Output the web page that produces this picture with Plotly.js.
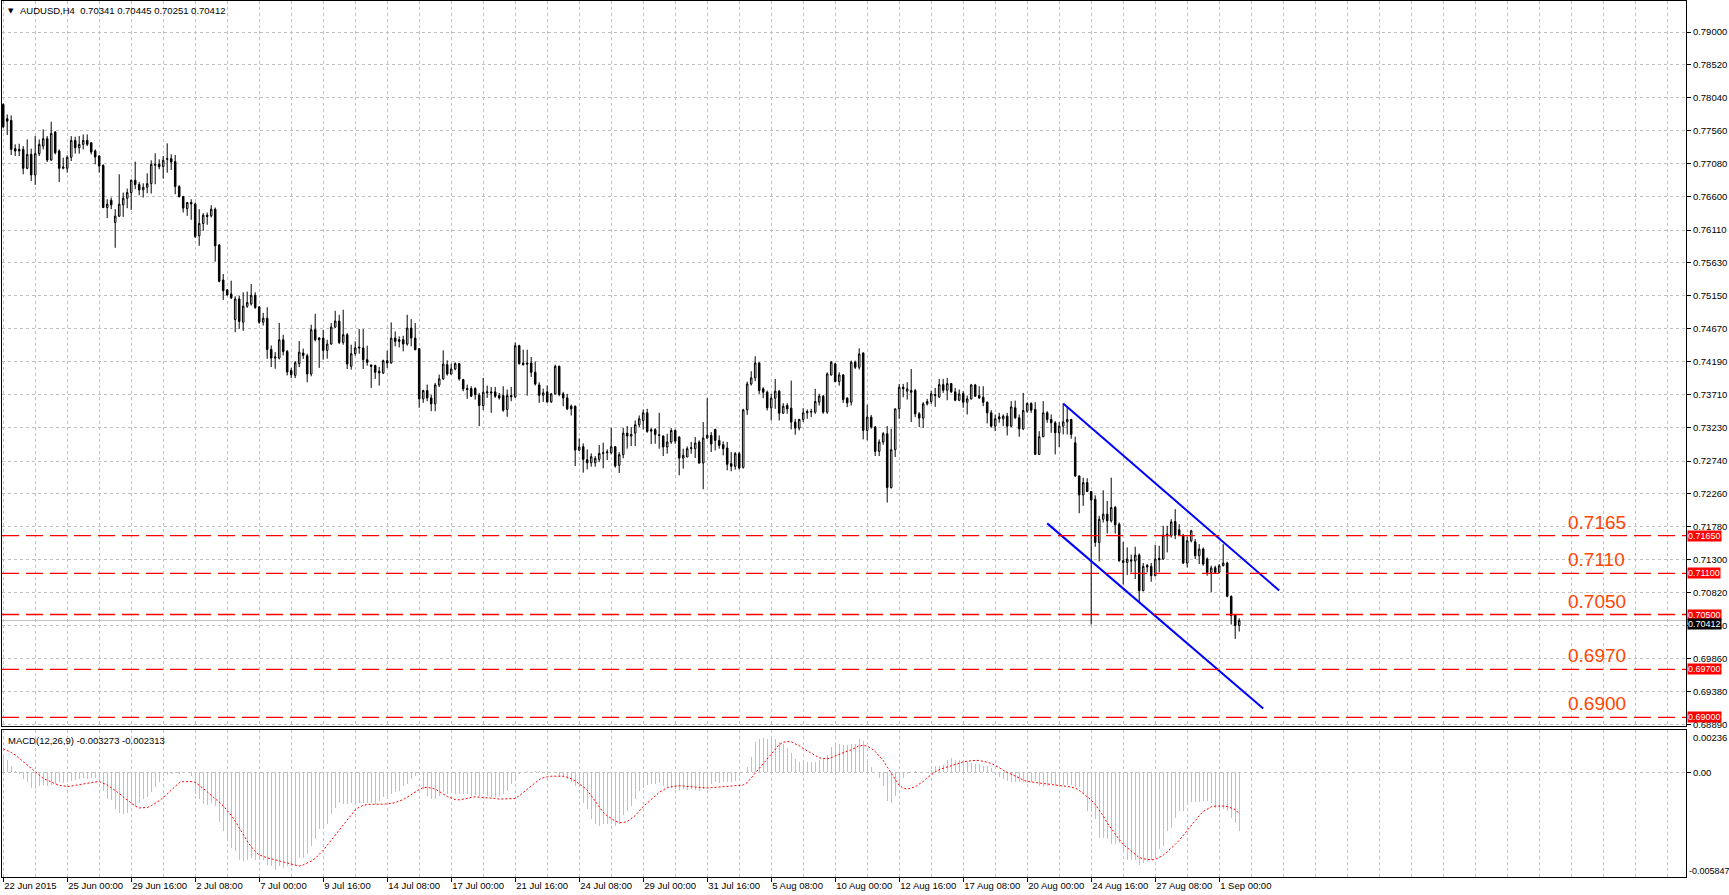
<!DOCTYPE html>
<html><head><meta charset="utf-8">
<script src="https://cdn.plot.ly/plotly-3.0.1.min.js"></script>
<style>html,body{margin:0;padding:0;background:#fff;overflow:hidden}#chart{width:1729px;height:895px}</style>
</head><body><div id="chart"></div>
<script>
const symbolTitle = "AUDUSD,H4  0.70341 0.70445 0.70251 0.70412";
const macdTitle = "MACD(12,26,9) -0.003273 -0.002313";

const open = [0.77943,0.77734,0.77710,0.77298,0.77288,0.77288,0.77012,0.77215,0.76915,0.77225,
0.77336,0.77443,0.77133,0.77540,0.77264,0.77012,0.77012,0.77172,0.77419,0.77312,
0.77361,0.77419,0.77385,0.77264,0.77191,0.77055,0.76439,0.76546,0.76221,0.76313,
0.76478,0.76575,0.76657,0.76837,0.76774,0.76696,0.76735,0.76788,0.77055,0.77070,
0.77036,0.77142,0.77152,0.77109,0.76745,0.76599,0.76425,0.76512,0.76488,0.76027,
0.76206,0.76328,0.76318,0.76415,0.75891,0.75382,0.75236,0.75178,0.74805,0.75105,
0.74766,0.74999,0.75033,0.75159,0.74989,0.74766,0.74824,0.74368,0.74242,0.74242,
0.74509,0.74339,0.74060,0.73990,0.74160,0.74315,0.74277,0.74010,0.74656,0.74534,
0.74534,0.74355,0.74447,0.74694,0.74782,0.74471,0.74583,0.74122,0.74306,0.74389,
0.74389,0.74219,0.74141,0.74132,0.74049,0.74025,0.74204,0.74170,0.74534,0.74510,
0.74510,0.74447,0.74680,0.74534,0.74379,0.73647,0.73768,0.73661,0.73574,0.73850,
0.73938,0.74146,0.74010,0.74083,0.74161,0.73928,0.73797,0.73797,0.73797,0.73700,
0.73550,0.73734,0.73749,0.73749,0.73695,0.73695,0.73492,0.73695,0.73676,0.74423,
0.74170,0.74170,0.74170,0.74035,0.73850,0.73700,0.73749,0.73603,0.73720,0.74122,
0.73720,0.73661,0.73540,0.73540,0.72900,0.72948,0.72759,0.72715,0.72715,0.72764,
0.72851,0.72861,0.72861,0.72948,0.72677,0.72832,0.73147,0.73104,0.73147,0.73269,
0.73332,0.73443,0.73196,0.73196,0.73123,0.73104,0.72944,0.73017,0.73186,0.73089,
0.72784,0.72798,0.72920,0.72920,0.73017,0.72711,0.73075,0.73114,0.73201,0.73041,
0.72978,0.72929,0.72701,0.72663,0.72847,0.72648,0.73487,0.73865,0.73953,0.74171,
0.73793,0.73744,0.73516,0.73657,0.73759,0.73438,0.73550,0.73511,0.73308,0.73220,
0.73346,0.73443,0.73453,0.73453,0.73599,0.73686,0.73453,0.73996,0.74156,0.73899,
0.73996,0.73657,0.73599,0.74181,0.74108,0.74316,0.73186,0.73380,0.73235,0.72881,
0.73017,0.73138,0.72352,0.72905,0.73502,0.73817,0.73759,0.73768,0.73768,0.73429,
0.73366,0.73574,0.73608,0.73710,0.73676,0.73855,0.73773,0.73870,0.73749,0.73627,
0.73724,0.73598,0.73647,0.73850,0.73695,0.73671,0.73598,0.73443,0.73249,0.73385,
0.73356,0.73395,0.73249,0.73516,0.73370,0.73210,0.73467,0.73579,0.73491,0.72837,
0.73094,0.73443,0.73346,0.73298,0.73152,0.73249,0.73312,0.73346,0.73006,0.72522,
0.72245,0.72425,0.72294,0.72182,0.71552,0.71891,0.71964,0.71867,0.72061,0.71818,
0.71285,0.71261,0.71295,0.71280,0.71367,0.70848,0.71217,0.71202,0.71067,0.71319,
0.71309,0.71649,0.71649,0.71857,0.71736,0.71658,0.71251,0.71576,0.71561,0.71358,
0.71455,0.71309,0.71115,0.71183,0.71115,0.71212,0.71251,0.70766,0.70494,0.70341];

const high = [0.77960,0.77797,0.77783,0.77361,0.77370,0.77336,0.77433,0.77298,0.77482,0.77433,
0.77579,0.77482,0.77691,0.77555,0.77288,0.77167,0.77201,0.77482,0.77472,0.77482,
0.77506,0.77506,0.77385,0.77288,0.77201,0.77070,0.76560,0.76585,0.76415,0.76924,
0.76657,0.76716,0.76850,0.77109,0.76813,0.76793,0.76939,0.77128,0.77230,0.77142,
0.77191,0.77375,0.77215,0.77206,0.76765,0.76609,0.76522,0.76560,0.76512,0.76415,
0.76357,0.76366,0.76473,0.76439,0.75906,0.75469,0.75251,0.75372,0.75144,0.75154,
0.75202,0.75212,0.75324,0.75202,0.74999,0.74902,0.74984,0.74426,0.74329,0.74756,
0.74582,0.74360,0.74100,0.74200,0.74490,0.74380,0.74306,0.74728,0.74888,0.74549,
0.74656,0.74510,0.74753,0.74932,0.74874,0.74947,0.74607,0.74437,0.74486,0.74665,
0.74665,0.74423,0.74146,0.74146,0.74112,0.74219,0.74350,0.74762,0.74631,0.74559,
0.74568,0.74874,0.74811,0.74753,0.74389,0.73780,0.73855,0.73710,0.73880,0.74001,
0.74355,0.74209,0.74161,0.74180,0.74170,0.73938,0.73855,0.73831,0.73817,0.73734,
0.73952,0.73841,0.73821,0.73821,0.73734,0.73831,0.73783,0.73821,0.74471,0.74437,
0.74365,0.74365,0.74258,0.74195,0.73889,0.73797,0.73841,0.73734,0.74146,0.74132,
0.73749,0.73720,0.73564,0.73550,0.73070,0.72997,0.72910,0.72851,0.72812,0.72973,
0.73007,0.72910,0.73225,0.72958,0.72871,0.73225,0.73249,0.73235,0.73332,0.73405,
0.73492,0.73502,0.73220,0.73220,0.73443,0.73114,0.73138,0.73220,0.73201,0.73104,
0.72920,0.72954,0.73017,0.73089,0.73041,0.73308,0.73657,0.73162,0.73211,0.73114,
0.73026,0.73017,0.72871,0.72871,0.72871,0.73502,0.73899,0.74050,0.74268,0.74181,
0.73817,0.73768,0.73720,0.73938,0.73778,0.73584,0.73584,0.73914,0.73356,0.73356,
0.73511,0.73492,0.73502,0.73793,0.73720,0.73705,0.74035,0.74200,0.74171,0.74035,
0.74011,0.73671,0.74205,0.74205,0.74384,0.74326,0.73560,0.73414,0.73249,0.73055,
0.73162,0.73249,0.73211,0.73502,0.73865,0.73865,0.73890,0.74083,0.73793,0.73453,
0.73599,0.73647,0.73768,0.73807,0.73938,0.73938,0.73952,0.73880,0.73807,0.73783,
0.73758,0.73695,0.73865,0.73865,0.73831,0.73831,0.73608,0.73482,0.73419,0.73443,
0.73419,0.73443,0.73613,0.73622,0.73419,0.73734,0.73598,0.73598,0.73598,0.73176,
0.73613,0.73467,0.73419,0.73322,0.73307,0.73579,0.73540,0.73356,0.73094,0.72531,
0.72497,0.72488,0.72294,0.72240,0.71940,0.72313,0.72158,0.72497,0.72085,0.71843,
0.71561,0.71479,0.71374,0.71488,0.71391,0.71251,0.71236,0.71251,0.71518,0.71503,
0.71794,0.71794,0.71891,0.72037,0.71818,0.71673,0.71639,0.71736,0.71600,0.71527,
0.71479,0.71333,0.71212,0.71212,0.71236,0.71527,0.71270,0.70776,0.70509,0.70445];

const low = [0.77600,0.77497,0.77206,0.77191,0.77191,0.76924,0.76997,0.76827,0.76769,0.77191,
0.77288,0.77104,0.77118,0.77215,0.76813,0.76997,0.76948,0.77118,0.77225,0.77225,
0.77288,0.77336,0.77215,0.77070,0.76948,0.76430,0.76284,0.76415,0.75852,0.76303,
0.76303,0.76430,0.76405,0.76706,0.76619,0.76585,0.76648,0.76643,0.76779,0.76997,
0.76861,0.76948,0.76987,0.76633,0.76585,0.76366,0.76318,0.76260,0.75993,0.75881,
0.76100,0.76187,0.76294,0.75649,0.75348,0.75091,0.75154,0.75105,0.74620,0.74669,
0.74640,0.74975,0.75008,0.74960,0.74742,0.74717,0.74232,0.74111,0.74087,0.74223,
0.74281,0.73990,0.73950,0.73950,0.74110,0.74230,0.73889,0.73976,0.74486,0.74098,
0.74219,0.74234,0.74437,0.74680,0.74447,0.74437,0.74083,0.74074,0.74277,0.74306,
0.74083,0.74132,0.73807,0.73938,0.73841,0.74010,0.74098,0.74161,0.74413,0.74398,
0.74340,0.74423,0.74413,0.74355,0.73516,0.73589,0.73613,0.73467,0.73467,0.73821,
0.73928,0.73986,0.74001,0.74064,0.73913,0.73758,0.73647,0.73676,0.73637,0.73249,
0.73482,0.73661,0.73443,0.73661,0.73637,0.73458,0.73385,0.73613,0.73661,0.74146,
0.74132,0.73695,0.73967,0.73841,0.73589,0.73603,0.73589,0.73589,0.73710,0.73686,
0.73540,0.73482,0.73404,0.72667,0.72885,0.72570,0.72618,0.72657,0.72657,0.72725,
0.72633,0.72754,0.72837,0.72643,0.72566,0.72780,0.72920,0.72958,0.72958,0.73235,
0.73201,0.73152,0.72987,0.72992,0.72920,0.72813,0.72847,0.72992,0.72992,0.72532,
0.72629,0.72798,0.72847,0.72784,0.72701,0.72328,0.73065,0.72871,0.72895,0.72920,
0.72823,0.72604,0.72590,0.72614,0.72619,0.72629,0.73414,0.73841,0.73904,0.73720,
0.73657,0.73477,0.73332,0.73502,0.73332,0.73429,0.73429,0.73201,0.73123,0.73186,
0.73308,0.73356,0.73380,0.73429,0.73550,0.73429,0.73429,0.73987,0.73890,0.73841,
0.73589,0.73526,0.73550,0.74083,0.74074,0.73055,0.73041,0.73211,0.72813,0.72813,
0.72978,0.72134,0.72338,0.72798,0.73356,0.73671,0.73637,0.73308,0.73380,0.73235,
0.73220,0.73550,0.73574,0.73530,0.73661,0.73734,0.73627,0.73734,0.73613,0.73613,
0.73516,0.73419,0.73637,0.73676,0.73647,0.73540,0.73288,0.73225,0.73176,0.73298,
0.73249,0.73113,0.73234,0.73356,0.73094,0.73191,0.73443,0.73443,0.72827,0.72827,
0.73089,0.73298,0.73152,0.72837,0.72943,0.73128,0.73128,0.73065,0.72507,0.71978,
0.72085,0.72289,0.70354,0.71488,0.71275,0.71843,0.71682,0.71843,0.71682,0.71270,
0.70940,0.71076,0.71115,0.71018,0.70679,0.70838,0.71115,0.70979,0.71057,0.71115,
0.71299,0.71406,0.71624,0.71600,0.71649,0.71236,0.71188,0.71552,0.71309,0.71236,
0.71212,0.71067,0.70824,0.71106,0.71101,0.71202,0.70751,0.70354,0.70145,0.70251];

const close = [0.77618,0.77700,0.77288,0.77264,0.77264,0.77012,0.77215,0.76915,0.77225,0.77361,
0.77443,0.77133,0.77521,0.77239,0.77012,0.77031,0.77172,0.77419,0.77312,0.77361,
0.77419,0.77361,0.77249,0.77176,0.77045,0.76439,0.76488,0.76478,0.76313,0.76488,
0.76575,0.76657,0.76837,0.76774,0.76696,0.76735,0.76788,0.77070,0.77070,0.77036,
0.77128,0.77152,0.77104,0.76745,0.76599,0.76430,0.76512,0.76493,0.76017,0.76206,
0.76328,0.76308,0.76415,0.75881,0.75363,0.75227,0.75164,0.75120,0.75105,0.74776,
0.74999,0.75052,0.75159,0.74979,0.74766,0.74824,0.74368,0.74242,0.74257,0.74509,
0.74339,0.74039,0.74000,0.74174,0.74329,0.74281,0.74010,0.74656,0.74510,0.74510,
0.74355,0.74447,0.74694,0.74782,0.74471,0.74583,0.74156,0.74306,0.74389,0.74400,
0.74219,0.74180,0.74122,0.74035,0.74025,0.74204,0.74170,0.74534,0.74486,0.74486,
0.74447,0.74680,0.74534,0.74365,0.73647,0.73768,0.73661,0.73574,0.73850,0.73938,
0.74156,0.74010,0.74083,0.74161,0.73938,0.73792,0.73783,0.73686,0.73710,0.73550,
0.73744,0.73749,0.73734,0.73686,0.73661,0.73482,0.73695,0.73676,0.74423,0.74161,
0.74146,0.74156,0.74035,0.73865,0.73700,0.73734,0.73603,0.73720,0.74122,0.73710,
0.73661,0.73501,0.73501,0.72900,0.72944,0.72764,0.72715,0.72803,0.72778,0.72851,
0.72861,0.72871,0.72948,0.72667,0.72832,0.73147,0.73104,0.73128,0.73269,0.73356,
0.73443,0.73172,0.73177,0.73128,0.73114,0.72944,0.73017,0.73186,0.73031,0.72784,
0.72823,0.72920,0.72934,0.73002,0.72711,0.73075,0.73114,0.72987,0.73041,0.72968,
0.72920,0.72692,0.72663,0.72847,0.72638,0.73487,0.73865,0.73953,0.74171,0.73768,
0.73744,0.73516,0.73657,0.73759,0.73438,0.73540,0.73502,0.73308,0.73220,0.73346,
0.73443,0.73463,0.73463,0.73608,0.73686,0.73453,0.74011,0.74181,0.73899,0.73996,
0.73637,0.73589,0.74181,0.74108,0.74302,0.73186,0.73380,0.73235,0.72881,0.73017,
0.73138,0.72352,0.72905,0.73502,0.73817,0.73793,0.73793,0.73744,0.73429,0.73366,
0.73574,0.73608,0.73720,0.73695,0.73855,0.73773,0.73870,0.73749,0.73627,0.73719,
0.73598,0.73647,0.73850,0.73686,0.73661,0.73598,0.73443,0.73249,0.73356,0.73356,
0.73395,0.73249,0.73530,0.73370,0.73210,0.73477,0.73579,0.73482,0.72837,0.73094,
0.73443,0.73346,0.73298,0.73152,0.73249,0.73312,0.73346,0.73128,0.72522,0.72245,
0.72425,0.72294,0.72172,0.71552,0.71891,0.71964,0.71867,0.72061,0.71809,0.71285,
0.71261,0.71309,0.71280,0.71367,0.70848,0.71202,0.71193,0.71067,0.71309,0.71299,
0.71658,0.71673,0.71852,0.71658,0.71658,0.71251,0.71576,0.71721,0.71358,0.71455,
0.71236,0.71115,0.71178,0.71115,0.71212,0.71251,0.70766,0.70485,0.70339,0.70412];

const macdMain = [0.00103,0.00066,0.00037,0.00009,-0.00009,-0.00037,-0.00056,-0.00090,-0.00094,-0.00079,
-0.00071,-0.00075,-0.00071,-0.00066,-0.00056,-0.00060,-0.00052,-0.00047,-0.00041,-0.00037,
-0.00034,-0.00037,-0.00034,-0.00034,-0.00037,-0.00103,-0.00150,-0.00154,-0.00206,-0.00225,
-0.00234,-0.00225,-0.00184,-0.00187,-0.00169,-0.00150,-0.00140,-0.00112,-0.00084,-0.00056,
-0.00019,-0.00015,-0.00009,-0.00004,-0.00007,0.00000,0.00004,-0.00019,-0.00122,-0.00150,
-0.00178,-0.00184,-0.00169,-0.00187,-0.00277,-0.00328,-0.00375,-0.00421,-0.00440,-0.00487,
-0.00496,-0.00487,-0.00478,-0.00487,-0.00491,-0.00491,-0.00515,-0.00524,-0.00543,-0.00524,
-0.00534,-0.00524,-0.00524,-0.00515,-0.00478,-0.00478,-0.00459,-0.00412,-0.00375,-0.00318,
-0.00318,-0.00290,-0.00234,-0.00197,-0.00169,-0.00178,-0.00178,-0.00172,-0.00172,-0.00172,
-0.00172,-0.00172,-0.00172,-0.00178,-0.00159,-0.00140,-0.00131,-0.00122,-0.00112,-0.00103,
-0.00079,-0.00066,-0.00037,-0.00019,-0.00009,-0.00094,-0.00131,-0.00150,-0.00150,-0.00131,
-0.00112,-0.00122,-0.00116,-0.00122,-0.00122,-0.00122,-0.00122,-0.00131,-0.00127,-0.00131,
-0.00122,-0.00131,-0.00140,-0.00140,-0.00131,-0.00122,-0.00103,-0.00066,-0.00037,-0.00009,
0.00004,0.00009,0.00004,0.00009,0.00009,0.00004,0.00009,0.00000,0.00000,-0.00019,
-0.00028,-0.00037,-0.00056,-0.00075,-0.00084,-0.00169,-0.00206,-0.00262,-0.00290,-0.00300,
-0.00290,-0.00290,-0.00290,-0.00300,-0.00290,
-0.00240,-0.00215,-0.00187,-0.00150,-0.00103,-0.00090,-0.00071,-0.00066,-0.00066,-0.00060,
-0.00075,-0.00084,-0.00090,-0.00094,-0.00097,-0.00094,-0.00097,-0.00094,-0.00097,-0.00103,
-0.00094,-0.00090,-0.00066,-0.00056,-0.00062,-0.00052,-0.00056,-0.00056,-0.00047,-0.00019,
0.00004,0.00028,0.00084,0.00169,0.00184,0.00191,0.00187,0.00184,0.00184,0.00169,
0.00159,0.00135,0.00109,0.00075,0.00060,0.00060,0.00056,0.00056,0.00056,0.00066,
0.00075,0.00094,0.00140,0.00154,0.00159,0.00150,0.00154,0.00159,0.00159,0.00184,
0.00172,0.00075,0.00028,0.00000,-0.00034,-0.00079,-0.00159,-0.00172,-0.00131,-0.00075,
-0.00034,-0.00009,0.00004,0.00009,0.00004,0.00004,0.00000,0.00015,0.00034,0.00037,
0.00041,0.00071,0.00079,0.00071,0.00066,0.00066,0.00060,0.00052,0.00047,0.00047,
0.00037,0.00034,0.00022,0.00000,-0.00028,-0.00037,-0.00047,-0.00056,-0.00052,-0.00052,
-0.00052,-0.00060,-0.00056,-0.00047,-0.00075,-0.00084,-0.00075,-0.00066,-0.00079,-0.00075,
-0.00071,-0.00071,-0.00071,-0.00084,-0.00084,-0.00122,-0.00215,-0.00221,-0.00262,-0.00365,
-0.00365,-0.00375,-0.00403,-0.00403,-0.00393,-0.00446,-0.00491,-0.00491,-0.00491,-0.00515,
-0.00506,-0.00502,-0.00491,-0.00468,-0.00427,-0.00412,-0.00328,-0.00309,-0.00258,-0.00215,
-0.00215,-0.00169,-0.00165,-0.00165,-0.00165,-0.00159,-0.00159,-0.00169,-0.00197,-0.00215,
-0.00206,-0.00215,-0.00253,-0.00281,-0.003273];

const macdSignal = [0.00131,0.00122,0.00111,0.00097,0.00079,0.00062,0.00041,0.00024,0.00007,-0.00015,
-0.00034,-0.00045,-0.00054,-0.00064,-0.00073,-0.00077,-0.00079,-0.00077,-0.00073,-0.00067,
-0.00064,-0.00060,-0.00056,-0.00054,-0.00052,-0.00060,-0.00071,-0.00086,-0.00101,-0.00118,
-0.00137,-0.00155,-0.00174,-0.00189,-0.00199,-0.00200,-0.00197,-0.00187,-0.00174,-0.00159,
-0.00142,-0.00120,-0.00097,-0.00075,-0.00058,-0.00052,-0.00051,-0.00052,-0.00056,-0.00071,
-0.00090,-0.00109,-0.00127,-0.00146,-0.00167,-0.00187,-0.00212,-0.00240,-0.00273,-0.00311,
-0.00348,-0.00384,-0.00416,-0.00442,-0.00461,-0.00470,-0.00478,-0.00483,-0.00489,-0.00496,
-0.00504,-0.00509,-0.00515,-0.00519,-0.00524,-0.00517,-0.00508,-0.00496,-0.00481,-0.00459,
-0.00435,-0.00408,-0.00380,-0.00352,-0.00324,-0.00294,-0.00264,-0.00236,-0.00210,-0.00195,
-0.00185,-0.00180,-0.00178,-0.00178,-0.00178,-0.00178,-0.00178,-0.00174,-0.00169,-0.00161,
-0.00152,-0.00139,-0.00124,-0.00109,-0.00096,-0.00086,-0.00084,-0.00088,-0.00094,-0.00107,
-0.00122,-0.00135,-0.00144,-0.00152,-0.00154,-0.00152,-0.00146,-0.00140,-0.00137,-0.00139,
-0.00140,-0.00142,-0.00144,-0.00146,-0.00150,-0.00150,-0.00150,-0.00148,-0.00146,-0.00131,
-0.00114,-0.00097,-0.00079,-0.00060,-0.00041,-0.00030,-0.00024,-0.00022,-0.00022,-0.00022,
-0.00022,-0.00028,-0.00036,-0.00049,-0.00064,-0.00081,-0.00099,-0.00131,-0.00163,-0.00195,
-0.00223,-0.00243,-0.00260,-0.00272,-0.00281,
-0.00281,-0.00275,-0.00257,-0.00242,-0.00217,-0.00191,-0.00172,-0.00154,-0.00133,-0.00112,
-0.00097,-0.00086,-0.00081,-0.00077,-0.00075,-0.00077,-0.00079,-0.00081,-0.00082,-0.00086,
-0.00086,-0.00088,-0.00086,-0.00084,-0.00082,-0.00079,-0.00077,-0.00075,-0.00075,-0.00075,
-0.00071,-0.00058,-0.00032,0.00000,0.00024,0.00051,0.00077,0.00099,0.00125,0.00154,
0.00167,0.00172,0.00170,0.00161,0.00148,0.00133,0.00120,0.00105,0.00092,0.00081,
0.00077,0.00075,0.00082,0.00092,0.00101,0.00111,0.00118,0.00125,0.00135,0.00148,
0.00150,0.00146,0.00133,0.00116,0.00090,0.00066,0.00030,-0.00004,-0.00041,-0.00073,
-0.00088,-0.00094,-0.00088,-0.00081,-0.00066,-0.00051,-0.00030,-0.00013,0.00002,0.00015,
0.00022,0.00032,0.00039,0.00045,0.00052,0.00058,0.00062,0.00066,0.00066,0.00066,
0.00062,0.00056,0.00049,0.00039,0.00026,0.00011,0.00000,-0.00013,-0.00024,-0.00036,
-0.00043,-0.00051,-0.00054,-0.00060,-0.00062,-0.00066,-0.00067,-0.00069,-0.00071,-0.00075,
-0.00077,-0.00079,-0.00082,-0.00088,-0.00101,-0.00118,-0.00137,-0.00155,-0.00180,-0.00212,
-0.00243,-0.00283,-0.00315,-0.00343,-0.00375,-0.00403,-0.00421,-0.00436,-0.00457,-0.00476,
-0.00483,-0.00487,-0.00489,-0.00487,-0.00476,-0.00463,-0.00444,-0.00425,-0.00403,-0.00380,
-0.00352,-0.00324,-0.00296,-0.00268,-0.00243,-0.00219,-0.00206,-0.00193,-0.00189,-0.00187,
-0.00189,-0.00191,-0.00199,-0.00208,-0.002313];

const dateLabels = ["22 Jun 2015","25 Jun 00:00","29 Jun 16:00","2 Jul 08:00","7 Jul 00:00","9 Jul 16:00",
"14 Jul 08:00","17 Jul 00:00","21 Jul 16:00","24 Jul 08:00","29 Jul 00:00","31 Jul 16:00","5 Aug 08:00",
"10 Aug 00:00","12 Aug 16:00","17 Aug 08:00","20 Aug 00:00","24 Aug 16:00","27 Aug 08:00","1 Sep 00:00"];
const barsPerLabel = 16;

const priceTicks = [0.79000,0.78520,0.78040,0.77560,0.77080,0.76600,0.76110,0.75630,0.75150,0.74670,
0.74190,0.73710,0.73230,0.72740,0.72260,0.71780,0.71300,0.70820,0.70340,0.69860,0.69380,0.68890];
const macdTickTop = 0.00236, macdTickBottom = -0.005847;

const levelPrices = [0.7165, 0.7110, 0.7050, 0.6970, 0.6900];
const levelTexts = ["0.7165","0.7110","0.7050","0.6970","0.6900"];
const levelAxisTexts = ["0.71650","0.71100","0.70500","0.69700","0.69000"];
const bidPrice = 0.70412, bidText = "0.70412";

const channelUpperBars = [265, 319], channelUpperPrices = [0.73580, 0.70850];
const channelLowerBars = [261, 315], channelLowerPrices = [0.71830, 0.69130];

// ---------- build ----------
const idx = open.map((_, i) => i);
const labelBars = dateLabels.map((_, i) => i * barsPerLabel);

const W = 1729, H = 895;
const plotL = 2, plotR = 1686, plotT = 1, plotB = 877;
const mainBottomPx = 726, macdTopPx = 730;
const ph = plotB - plotT;
const mainDomain = [(plotB - mainBottomPx) / ph, 1];
const macdDomain = [0, (plotB - macdTopPx) / ph];
const barPx = 4;
const x0 = -0.3;
const xRange = [x0, x0 + (plotR - plotL) / barPx];
const priceRange = [0.68873, 0.79453];

const FONT = "Liberation Sans, Arial, sans-serif";
const GRID = '#c0c0c0';

const traces = [
  {type:'candlestick', x:idx, open, high, low, close, xaxis:'x', yaxis:'y',
   increasing:{line:{color:'#000', width:1}, fillcolor:'#ffffff'},
   decreasing:{line:{color:'#000', width:1}, fillcolor:'#000000'},
   whiskerwidth:0, hoverinfo:'skip'},
  {type:'scatter', mode:'lines', x:channelUpperBars, y:channelUpperPrices, xaxis:'x', yaxis:'y',
   line:{color:'#0000ff', width:2}, hoverinfo:'skip'},
  {type:'scatter', mode:'lines', x:channelLowerBars, y:channelLowerPrices, xaxis:'x', yaxis:'y',
   line:{color:'#0000ff', width:2}, hoverinfo:'skip'},
  {type:'bar', x:idx, y:macdMain, xaxis:'x2', yaxis:'y2', width:0.28,
   marker:{color:'#c0c0c0', line:{width:0}}, hoverinfo:'skip'},
  {type:'scatter', mode:'lines', x:idx, y:macdSignal, xaxis:'x2', yaxis:'y2',
   line:{color:'#ff0000', width:1, dash:'2px,2px'}, hoverinfo:'skip'}
];

const shapes = [];
levelPrices.forEach(p => shapes.push({type:'line', xref:'x domain', yref:'y', x0:0, x1:1, y0:p, y1:p,
  line:{color:'#ff0000', width:1.3, dash:'17px,7px'}, layer:'above'}));
shapes.push({type:'line', xref:'x domain', yref:'y', x0:0, x1:1, y0:bidPrice, y1:bidPrice,
  line:{color:'#c0c0c0', width:1}, layer:'below'});

const annotations = [];
const pxX = px => (px - plotL) / (plotR - plotL);
const pxY = py => (plotB - py) / ph;
annotations.push({xref:'paper', yref:'paper', x:pxX(6), y:pxY(11), xanchor:'left', yanchor:'middle',
  text:'▼', showarrow:false, font:{family:'DejaVu Sans', size:7, color:'#000'}});
annotations.push({xref:'paper', yref:'paper', x:pxX(18), y:pxY(11), xanchor:'left', yanchor:'middle',
  text:symbolTitle.replace(/  /g,'&nbsp;&nbsp;'), showarrow:false, font:{family:FONT, size:9.5, color:'#000'}});
annotations.push({xref:'paper', yref:'paper', x:pxX(6), y:pxY(740), xanchor:'left', yanchor:'middle',
  text:macdTitle, showarrow:false, font:{family:FONT, size:9.5, color:'#000'}});
annotations.push({xref:'paper', yref:'paper', x:pxX(1691), y:pxY(737), xanchor:'left', yanchor:'middle',
  text:macdTickTop.toFixed(5), showarrow:false, font:{family:FONT, size:9.5, color:'#000'}});
annotations.push({xref:'paper', yref:'paper', x:pxX(1687), y:pxY(871), xanchor:'left', yanchor:'middle',
  text:macdTickBottom.toFixed(6), showarrow:false, font:{family:FONT, size:9, color:'#000'}});
levelPrices.forEach((p, i) => {
  annotations.push({xref:'paper', yref:'y', x:pxX(1566), y:p, xanchor:'left', yanchor:'bottom', yshift:1,
    text:levelTexts[i], showarrow:false, font:{family:FONT, size:19, color:'#ff4500'}});
  annotations.push({xref:'paper', yref:'y', x:pxX(1687), y:p, xanchor:'left', yanchor:'middle',
    text:levelAxisTexts[i], showarrow:false, bgcolor:'#ff0000', borderpad:0,
    font:{family:FONT, size:9, color:'#ffffff'}});
});
annotations.push({xref:'paper', yref:'y', x:pxX(1687), y:bidPrice, xanchor:'left', yanchor:'top', yshift:3,
  text:bidText, showarrow:false, bgcolor:'#000000', borderpad:0, font:{family:FONT, size:9, color:'#ffffff'}});

const commonX = {range:xRange, showline:true, mirror:true, linecolor:'#000', linewidth:1, zeroline:false,
  tickmode:'array', tickvals:labelBars, showgrid:true, gridcolor:GRID, griddash:'3px,3px', gridwidth:1,
  minor:{tickmode:'linear', tick0:0, dtick:8, showgrid:true, gridcolor:GRID, griddash:'3px,3px', gridwidth:1, ticks:''},
  fixedrange:true, tickangle:0, automargin:false};

const layout = {
  width:W, height:H, margin:{l:plotL, r:W-plotR, t:plotT, b:H-plotB, pad:0},
  paper_bgcolor:'#ffffff', plot_bgcolor:'#ffffff', showlegend:false, boxgap:0.45, bargap:0,
  font:{family:FONT, size:9.5, color:'#000'},
  xaxis:Object.assign({}, commonX, {domain:[0,1], anchor:'y', showticklabels:false, ticks:'',
    rangeslider:{visible:false}}),
  xaxis2:Object.assign({}, commonX, {domain:[0,1], anchor:'y2', ticktext:dateLabels, showticklabels:true,
    ticks:'outside', ticklen:4, tickcolor:'#000', ticklabelposition:'outside right',
    tickfont:{family:FONT, size:9.5, color:'#000'}}),
  yaxis:{domain:mainDomain, anchor:'x', side:'right', range:priceRange, tickmode:'array', tickvals:priceTicks,
    ticktext:priceTicks.map(v => v.toFixed(5)), ticks:'outside', ticklen:4, tickcolor:'#000',
    showgrid:true, gridcolor:GRID, griddash:'3px,3px', gridwidth:1, showline:true, mirror:true,
    linecolor:'#000', linewidth:1, zeroline:false, fixedrange:true, automargin:false,
    tickfont:{family:FONT, size:9.5, color:'#000'}},
  yaxis2:{domain:macdDomain, anchor:'x2', side:'right', range:[macdTickBottom, macdTickTop], tickmode:'array',
    tickvals:[0], ticktext:['0.00'], ticks:'outside', ticklen:4, tickcolor:'#000',
    showgrid:true, gridcolor:GRID, griddash:'3px,3px', gridwidth:1, showline:true, mirror:true,
    linecolor:'#000', linewidth:1, zeroline:false, fixedrange:true, automargin:false,
    tickfont:{family:FONT, size:9.5, color:'#000'}},
  shapes, annotations
};

Plotly.newPlot('chart', traces, layout, {staticPlot:true, displayModeBar:false});
</script></body></html>
